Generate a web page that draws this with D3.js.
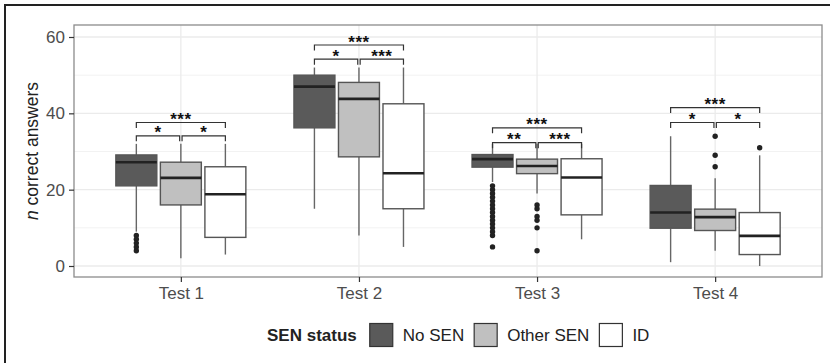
<!DOCTYPE html>
<meta charset="utf-8">
<style>

body {
  margin: 0;
  background: #fff;
}

text {
  font-family: "Liberation Sans", Arial, sans-serif;
}

</style>
<svg width="830" height="363"></svg>
<script src="https://d3js.org/d3.v7.min.js"></script>
<script>

var tests = ["Test 1", "Test 2", "Test 3", "Test 4"],
    groups = ["No SEN", "Other SEN", "ID"],
    fills = ["#5a5a5a", "#c0c0c0", "#ffffff"];

// box statistics, one row per test, one column per SEN group
var whiskerLow = [[9, 2, 3], [15, 8, 5], [22, 19, 7], [1, 4, 0]],
    q1 = [[21, 16, 7.5], [36.2, 28.6, 15], [25.9, 24.2, 13.4], [9.9, 9.3, 3]],
    median = [[27.2, 23.1, 18.8], [47, 43.8, 24.3], [28, 26.2, 23.2], [14, 12.8, 7.9]],
    q3 = [[29.1, 27.2, 26], [50, 48.1, 42.5], [29.2, 28, 28.1], [21.1, 14.9, 14]],
    whiskerHigh = [[32, 32, 32], [52, 52, 52], [32, 32, 32], [34, 23, 29]];

var outliers = [
  [[8, 7, 6, 5, 4], [], []],
  [[], [], []],
  [[21, 20, 19, 18, 17, 16, 15, 14, 13, 12, 11, 10, 9, 8, 5], [16, 15, 13, 12, 10, 4], []],
  [[], [34, 29, 26], [31]]
];

// significance brackets
var bracketLow = [34.1, 54.2, 32.3, 37.6],
    bracketHigh = [37.6, 57.9, 36.2, 41.5],
    starsLeft = ["*", "*", "**", "*"],
    starsRight = ["*", "***", "***", "*"],
    starsTop = ["***", "***", "***", "***"];

var yTicks = [0, 20, 40, 60],
    yMinor = [10, 30, 50];

var svg = d3.select("svg");

var panel = {left: 74, top: 25, right: 822, bottom: 277};

var step = (panel.right - panel.left) / 4.2;

var x = d3.scalePoint()
    .domain(tests)
    .range([panel.left + 0.6 * step, panel.right - 0.6 * step]);

var dodge = d3.scaleBand()
    .domain(groups)
    .range([-0.375 * step, 0.375 * step]);

var y = d3.scaleLinear()
    .domain([0, 60])
    .range([266, 37]);

// outer frame (top and left only)
svg.append("path")
    .attr("d", "M5,363V5H830")
    .attr("fill", "none")
    .attr("stroke", "#222")
    .attr("stroke-width", 2);

// grid
var grid = svg.append("g");

grid.selectAll(".minor")
    .data(yMinor)
  .enter().append("line")
    .attr("x1", panel.left).attr("x2", panel.right)
    .attr("y1", y).attr("y2", y)
    .attr("stroke", "#f2f2f2")
    .attr("stroke-width", 1);

grid.selectAll(".major")
    .data(yTicks)
  .enter().append("line")
    .attr("x1", panel.left).attr("x2", panel.right)
    .attr("y1", y).attr("y2", y)
    .attr("stroke", "#ebebeb")
    .attr("stroke-width", 1.3);

grid.selectAll(".vert")
    .data(tests)
  .enter().append("line")
    .attr("x1", x).attr("x2", x)
    .attr("y1", panel.top).attr("y2", panel.bottom)
    .attr("stroke", "#ebebeb")
    .attr("stroke-width", 1.3);

// boxes
var cells = [];
tests.forEach(function(t, i) {
  groups.forEach(function(g, j) {
    cells.push({test: t, group: g, i: i, j: j,
      lo: whiskerLow[i][j], q1: q1[i][j], med: median[i][j], q3: q3[i][j], hi: whiskerHigh[i][j],
      out: outliers[i][j]});
  });
});

var bw = dodge.bandwidth() * 0.92;

var box = svg.append("g").selectAll("g")
    .data(cells)
  .enter().append("g")
    .attr("transform", function(d) { return "translate(" + (x(d.test) + dodge(d.group) + dodge.bandwidth() / 2) + ",0)"; });

box.append("line")
    .attr("y1", function(d) { return y(d.lo); })
    .attr("y2", function(d) { return y(d.q1); })
    .attr("stroke", "#666").attr("stroke-width", 1.4);

box.append("line")
    .attr("y1", function(d) { return y(d.q3); })
    .attr("y2", function(d) { return y(d.hi); })
    .attr("stroke", "#666").attr("stroke-width", 1.4);

box.append("rect")
    .attr("x", -bw / 2)
    .attr("width", bw)
    .attr("y", function(d) { return y(d.q3); })
    .attr("height", function(d) { return y(d.q1) - y(d.q3); })
    .attr("fill", function(d) { return fills[d.j]; })
    .attr("stroke", "#555")
    .attr("stroke-width", 1.4);

box.append("line")
    .attr("x1", -bw / 2).attr("x2", bw / 2)
    .attr("y1", function(d) { return y(d.med); })
    .attr("y2", function(d) { return y(d.med); })
    .attr("stroke", "#222").attr("stroke-width", 2.6);

box.selectAll("circle")
    .data(function(d) { return d.out; })
  .enter().append("circle")
    .attr("r", 2.7)
    .attr("cy", y)
    .attr("fill", "#222");

// significance brackets
var sig = svg.append("g").selectAll("g")
    .data(tests)
  .enter().append("g");

function cx(t, g) { return x(t) + dodge(g) + dodge.bandwidth() / 2; }

function bracket(sel, x1, x2, yv, label) {
  var yy = y(yv);
  sel.append("path")
      .attr("d", "M" + x1 + "," + (yy + 5.5) + "V" + yy + "H" + x2 + "V" + (yy + 5.5))
      .attr("fill", "none")
      .attr("stroke", "#333")
      .attr("stroke-width", 1.2);
  sel.append("text")
      .attr("x", (x1 + x2) / 2)
      .attr("y", yy + 2.5)
      .attr("text-anchor", "middle")
      .attr("font-size", 17)
      .attr("font-weight", "bold")
      .attr("letter-spacing", 0.5)
      .attr("fill", "#111")
      .text(label);
}

sig.each(function(t, i) {
  var g = d3.select(this);
  var c0 = cx(t, groups[0]), c1 = cx(t, groups[1]), c2 = cx(t, groups[2]);
  bracket(g, c0, c1 - 1.2, bracketLow[i], starsLeft[i]);
  bracket(g, c1 + 1.2, c2, bracketLow[i], starsRight[i]);
  bracket(g, c0, c2, bracketHigh[i], starsTop[i]);
});

// panel border
svg.append("rect")
    .attr("x", panel.left).attr("y", panel.top)
    .attr("width", panel.right - panel.left)
    .attr("height", panel.bottom - panel.top)
    .attr("fill", "none")
    .attr("stroke", "#8c8c8c")
    .attr("stroke-width", 1.3);

// axes
var yAxis = svg.append("g")
    .attr("transform", "translate(" + panel.left + ",0)")
    .call(d3.axisLeft(y).tickValues(yTicks).tickSize(5).tickPadding(4));

var xAxis = svg.append("g")
    .attr("transform", "translate(0," + panel.bottom + ")")
    .call(d3.axisBottom(x).tickSize(5).tickPadding(5));

[yAxis, xAxis].forEach(function(a) {
  a.select(".domain").remove();
  a.selectAll(".tick line").attr("stroke", "#333").attr("stroke-width", 1.2);
  a.selectAll(".tick text")
      .attr("font-family", "Liberation Sans, Arial, sans-serif")
      .attr("font-size", 17)
      .attr("fill", "#4d4d4d");
});

var ytitle = svg.append("text")
    .attr("transform", "translate(38," + ((panel.top + panel.bottom) / 2) + ") rotate(-90)")
    .attr("text-anchor", "middle")
    .attr("font-size", 17.5)
    .attr("fill", "#222");
ytitle.append("tspan").attr("font-style", "italic").text("n");
ytitle.append("tspan").text(" correct answers");

// legend
var legend = svg.append("g")
    .attr("transform", "translate(267,335)");

var lt = legend.append("text")
    .attr("y", 6)
    .attr("font-size", 17)
    .attr("font-weight", "bold")
    .attr("fill", "#222")
    .text("SEN status");

var lx = lt.node().getComputedTextLength() + 13;

groups.forEach(function(g, j) {
  legend.append("rect")
      .attr("x", lx).attr("y", -11.5)
      .attr("width", 23).attr("height", 23)
      .attr("fill", fills[j])
      .attr("stroke", "#333")
      .attr("stroke-width", 1.2);
  var t = legend.append("text")
      .attr("x", lx + 33)
      .attr("y", 6)
      .attr("font-size", 17)
      .attr("fill", "#222")
      .text(g);
  lx += 33 + t.node().getComputedTextLength() + 10;
});

</script>
